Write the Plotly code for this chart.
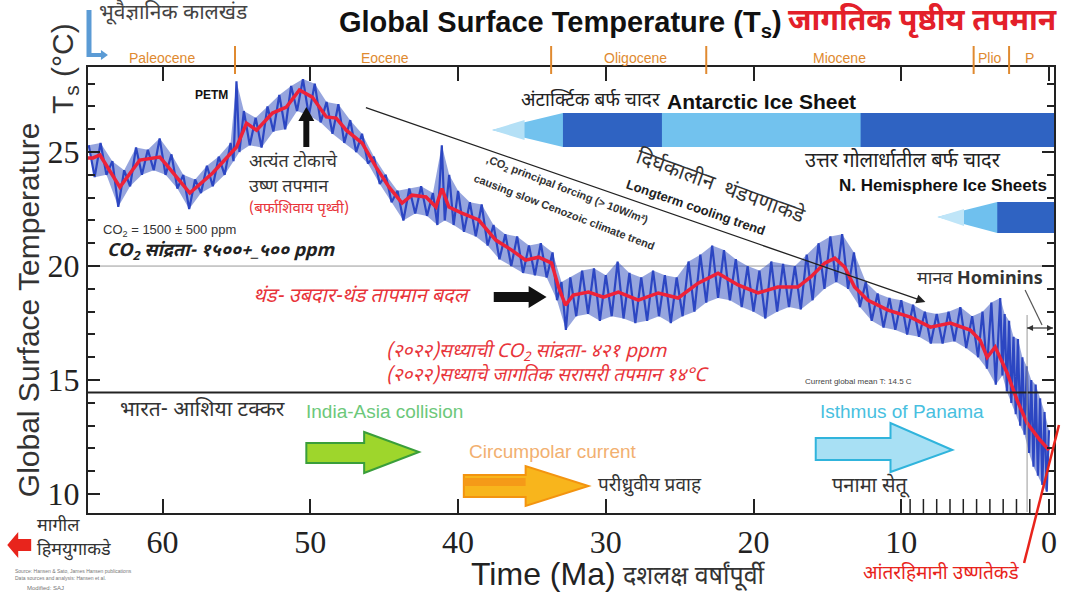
import plotly.graph_objects as go

# ---------------- data ----------------
# smoothed global surface temperature (red curve), Ma before present vs deg C
red_ma = [65.05, 64.71, 64.24, 62.89, 61.54, 60.19, 59.72, 58.16, 56.61, 54.99,
          54.32, 53.64, 52.56, 51.62, 50.74, 49.87, 48.92, 48.25, 47.57, 46.49,
          45.55, 44.67, 43.79, 43.12, 42.17, 41.5, 41.09, 40.62, 39.74, 38.6,
          37.45, 36.37, 35.43, 34.55, 33.67, 33.2, 32.73, 32.2, 31.17, 30.16,
          29.15, 27.8, 26.45, 25.1, 23.75, 22.4, 21.05, 19.7, 18.35, 17.0,
          16.13, 15.18, 14.5, 13.83, 13.16, 12.28, 10.9, 9.38, 8.03, 6.68,
          5.33, 4.66, 4.18, 3.64, 2.83, 2.16, 1.48, 0.61, 0.0]
red_t = [24.74, 24.74, 24.87, 23.46, 24.65, 24.78, 24.43, 23.2, 24.08, 25.22,
         26.27, 25.96, 26.71, 26.97, 27.72, 27.41, 26.54, 26.49, 25.96, 25.39,
         24.34, 23.46, 22.76, 23.11, 23.03, 22.59, 23.4, 22.59, 22.32, 22.02,
         21.14, 20.7, 20.26, 20.39, 20.13, 19.08, 18.29, 18.73, 18.86, 18.64,
         18.86, 18.51, 18.82, 18.6, 19.25, 19.69, 19.17, 18.82, 19.08, 19.08,
         19.52, 20.13, 20.35, 19.96, 19.08, 18.51, 18.07, 17.76, 17.32, 17.5,
         17.19, 16.75, 16.0, 16.45, 15.31, 14.12, 13.11, 12.37, 11.93]

# high-resolution record (blue curve), alternating local highs and lows
blue_ma = [65.0, 64.6, 64.2, 63.8, 63.4, 63.0, 62.6, 62.2, 61.8, 61.4,
           61.0, 60.6, 60.2, 59.8, 59.4, 59.0, 58.6, 58.2, 57.8, 57.4,
           57.0, 56.6, 56.2, 55.8, 55.4, 55.2, 55.0, 54.8, 54.5, 54.1,
           53.7, 53.3, 52.9, 52.5, 52.1, 51.7, 51.3, 50.9, 50.5, 50.1,
           49.7, 49.3, 48.9, 48.5, 48.1, 47.7, 47.3, 46.9, 46.5, 46.1,
           45.7, 45.3, 44.9, 44.5, 44.1, 43.7, 43.3, 42.9, 42.5, 42.1,
           41.7, 41.4, 41.1, 40.9, 40.6, 40.3, 40.0, 39.6, 39.2, 38.8,
           38.4, 38.0, 37.6, 37.2, 36.8, 36.4, 36.0, 35.6, 35.2, 34.8,
           34.4, 34.0, 33.6, 33.3, 33.0, 32.7, 32.4, 32.0, 31.6, 31.2,
           30.8, 30.4, 30.0, 29.6, 29.2, 28.8, 28.4, 28.0, 27.6, 27.2,
           26.8, 26.4, 26.0, 25.6, 25.2, 24.8, 24.4, 24.0, 23.6, 23.2,
           22.8, 22.4, 22.0, 21.6, 21.2, 20.8, 20.4, 20.0, 19.6, 19.2,
           18.8, 18.4, 18.0, 17.6, 17.2, 16.8, 16.4, 16.0, 15.6, 15.2,
           14.8, 14.4, 14.0, 13.6, 13.2, 12.8, 12.4, 12.0, 11.6, 11.2,
           10.8, 10.4, 10.0, 9.6, 9.2, 8.8, 8.4, 8.0, 7.6, 7.2,
           6.8, 6.4, 6.0, 5.6, 5.2, 4.8, 4.5, 4.2, 3.9, 3.6,
           3.3, 3.15, 3.0, 2.85, 2.7, 2.55, 2.4, 2.25, 2.1, 1.95,
           1.8, 1.65, 1.5, 1.35, 1.2, 1.05, 0.9, 0.75, 0.6, 0.45,
           0.3, 0.15, 0.0]
blue_t = [25.3, 23.9, 25.4, 24.0, 24.6, 22.6, 24.2, 23.5, 25.2, 24.0,
          25.1, 24.2, 25.6, 24.0, 24.9, 23.4, 24.0, 22.5, 23.8, 23.2,
          24.4, 23.5, 24.8, 24.0, 25.4, 24.6, 28.1, 25.0, 26.8, 25.3,
          26.5, 25.2, 27.0, 25.9, 27.5, 26.0, 27.9, 26.8, 28.2, 26.6,
          28.0, 26.3, 27.2, 25.8, 27.1, 25.4, 26.4, 25.0, 25.8, 24.5,
          24.8, 23.6, 24.0, 22.8, 23.3, 22.0, 23.4, 22.3, 23.5, 22.2,
          23.2, 21.8, 25.3, 22.0, 24.0, 21.8, 23.3, 21.5, 22.8, 21.3,
          22.7, 20.9, 21.8, 20.3, 21.4, 20.0, 21.3, 19.7, 20.9, 19.6,
          21.0, 19.5, 20.6, 18.5, 19.3, 17.2, 19.5, 17.8, 19.8, 17.9,
          19.9, 17.6, 19.6, 17.8, 20.2, 17.7, 19.7, 17.5, 19.5, 17.6,
          19.8, 17.8, 19.6, 17.5, 19.5, 17.8, 20.2, 18.0, 20.5, 18.4,
          20.9, 18.6, 20.7, 18.5, 20.3, 18.2, 20.0, 18.0, 19.8, 17.7,
          20.2, 18.0, 20.1, 18.2, 20.0, 18.1, 20.5, 18.5, 21.0, 19.0,
          21.3, 19.3, 21.4, 19.0, 20.6, 18.2, 19.3, 17.6, 18.8, 17.3,
          18.6, 17.2, 18.5, 17.0, 18.3, 16.9, 18.0, 16.6, 17.9, 16.6,
          18.0, 16.7, 18.2, 16.4, 17.8, 16.0, 18.0, 15.5, 18.4, 14.8,
          18.6, 15.2, 17.9, 14.5, 17.6, 14.0, 16.9, 13.5, 16.8, 13.0,
          16.0, 12.6, 15.6, 11.8, 15.0, 11.2, 14.8, 10.8, 14.2, 10.4,
          13.6, 10.1, 12.8]

# geological epochs
epoch_names = ["Paleocene", "Eocene", "Oligocene", "Miocene", "Plio", "P"]
epoch_label_ma = [60.05, 44.94, 28.0, 14.17, 3.98, 1.3]
epoch_bounds_ma = [55.1, 33.7, 23.2, 5.1, 2.7]

x_ticks = [60, 50, 40, 30, 20, 10, 0]
y_ticks = [10, 15, 20, 25]
fine_ticks_ma = [9.4, 8.5, 7.6, 6.7, 5.8, 4.9, 4.0, 3.1, 2.2, 1.3]
current_mean_t = 14.45

# ice sheet bars: tip, full-width start, dark spans (Ma)
antarctic_tip, antarctic_full = 37.7, 32.9
antarctic_dark = [(32.9, 26.2), (12.75, -0.34)]
nh_tip, nh_full = 7.55, 3.5
nh_dark = [(3.5, -0.34)]

X_RANGE = [65.05, -0.34]
Y_RANGE = [9.17, 28.73]

# ---------------- helpers ----------------
L, R, T, B = 88, 1057, 67, 513
W, H = 1065, 606


def px(x):
    return (x - L) / (R - L)


def py(y):
    return (B - y) / (B - T)


DEVA = "Noto Sans Devanagari, Lohit Devanagari, Noto Sans, Liberation Sans, sans-serif"
SANS = "Liberation Sans, Arial, sans-serif"
SERIF = "Liberation Serif, Times New Roman, serif"

annotations = []
shapes = []


def txt(x, y, s, size, color="#333333", family=DEVA, anchor="left", angle=0):
    annotations.append(dict(
        x=px(x), y=py(y), xref="paper", yref="paper", text=s, showarrow=False,
        xanchor=anchor, yanchor="middle", textangle=angle,
        font=dict(size=size, color=color, family=family)))


def poly(points, fill, line=None, lw=0, xref="paper"):
    if xref == "paper":
        d = "M " + " L ".join(f"{px(a):.5f},{py(b):.5f}" for a, b in points) + " Z"
    else:
        d = "M " + " L ".join(f"{a:.4f},{py(b):.5f}" for a, b in points) + " Z"
    shapes.append(dict(type="path", path=d, xref=xref, yref="paper",
                       fillcolor=fill, line=dict(color=line or fill, width=lw),
                       layer="above"))


def seg(x0, y0, x1, y1, color, width):
    shapes.append(dict(type="line", xref="paper", yref="paper",
                       x0=px(x0), y0=py(y0), x1=px(x1), y1=py(y1),
                       line=dict(color=color, width=width), layer="above"))


# ---------------- figure ----------------
fig = go.Figure()

# blue record: shaded envelope between highs and lows, plus the jagged trace
fig.add_trace(go.Scatter(x=blue_ma[0::2], y=blue_t[0::2], mode="lines",
                         line=dict(color="rgba(0,0,0,0)", width=0), hoverinfo="skip"))
fig.add_trace(go.Scatter(x=blue_ma[1::2], y=blue_t[1::2], mode="lines",
                         line=dict(color="rgba(0,0,0,0)", width=0), fill="tonexty",
                         fillcolor="rgba(45,75,190,0.5)", hoverinfo="skip"))
fig.add_trace(go.Scatter(x=blue_ma, y=blue_t, mode="lines",
                         line=dict(color="#2c46c2", width=2.2), hoverinfo="skip"))
fig.add_trace(go.Scatter(x=red_ma, y=red_t, mode="lines",
                         line=dict(color="#ee2238", width=3.5), hoverinfo="skip"))

# reference lines: 20 C grid line, current global mean
shapes.append(dict(type="line", xref="paper", yref="y", x0=0, x1=1, y0=20, y1=20,
                   line=dict(color="#9a9a9a", width=1), layer="below"))
shapes.append(dict(type="line", xref="paper", yref="y", x0=0, x1=1,
                   y0=current_mean_t, y1=current_mean_t,
                   line=dict(color="#222222", width=2)))

# epoch boundaries and labels
for b in epoch_bounds_ma:
    shapes.append(dict(type="line", xref="x", yref="paper", x0=b, x1=b,
                       y0=py(74), y1=py(46), line=dict(color="#e08a30", width=2)))
for name, m in zip(epoch_names, epoch_label_ma):
    annotations.append(dict(x=m, y=py(58), xref="x", yref="paper", text=name,
                            showarrow=False, xanchor="center", yanchor="middle",
                            font=dict(size=14, color="#e08a30", family=SANS)))

# fine ticks near the present
for m in fine_ticks_ma:
    shapes.append(dict(type="line", xref="x", yref="paper", x0=m, x1=m,
                       y0=0, y1=py(499), line=dict(color="#222", width=1.5)))

# Antarctic ice sheet bar
yt, yb, ym = 113, 147, 130
poly([(antarctic_tip, ym), (antarctic_full, yt), (-0.34, yt), (-0.34, yb),
      (antarctic_full, yb)], "#72c2ee", xref="x")
poly([(antarctic_tip, ym), (antarctic_tip - 2.2, yt + 7), (antarctic_tip - 2.2, yb - 7)],
     "#b4e0f6", xref="x")
for a, b in antarctic_dark:
    poly([(a, yt), (b, yt), (b, yb), (a, yb)], "#2f63c2", xref="x")

# Northern hemisphere ice sheet bar
yt2, yb2, ym2 = 202, 233, 217
poly([(nh_tip, ym2), (nh_full, yt2), (-0.34, yt2), (-0.34, yb2), (nh_full, yb2)],
     "#6fc0ee", xref="x")
poly([(nh_tip, ym2), (nh_tip - 1.8, yt2 + 7), (nh_tip - 1.8, yb2 - 7)], "#bfe5f8", xref="x")
for a, b in nh_dark:
    poly([(a, yt2), (b, yt2), (b, yb2), (a, yb2)], "#2f63c2", xref="x")

# block arrows
poly([(307, 443), (365, 443), (365, 432), (420, 452), (365, 473), (365, 463), (307, 463)],
     "#9ed62c", "#3a9e3a", 2)
poly([(465, 475), (527, 475), (527, 466), (590, 486), (527, 506), (527, 497), (465, 497)],
     "#f8b51c", "#f39410", 2)
poly([(465, 478), (527, 478), (527, 486), (465, 486)], "#f59a18")
poly([(818, 438), (893, 438), (893, 423), (955, 450), (893, 472), (893, 460), (818, 460)],
     "#a8e0f4", "#30b4dc", 2)
poly([(495, 292), (530, 292), (530, 286), (548, 297), (530, 308), (530, 302), (495, 302)],
     "#111111")
poly([(304, 147), (304, 121), (299, 121), (307, 107), (315, 121), (310, 121), (310, 147)],
     "#111111")
poly([(7, 545), (18, 532), (18, 539), (31, 539), (31, 551), (18, 551), (18, 558)],
     "#e8241c")

# top-left blue corner arrow
seg(89, 10, 89, 57, "#5b9bd5", 5)
seg(87, 55, 102, 55, "#5b9bd5", 4)
poly([(101, 50), (108, 55), (101, 60)], "#5b9bd5")

# hominins bracket
seg(1030, 315, 1030, 512, "#9a9a9a", 1)
seg(1030, 328, 1056, 328, "#333333", 1.2)
seg(1028, 290, 1045, 325, "#555555", 1.2)
poly([(1030, 328), (1036, 325), (1036, 331)], "#333333")
poly([(1056, 328), (1050, 325), (1050, 331)], "#333333")

# red pointer to interglacial warmth
seg(1027, 563, 1062, 425, "#e8241c", 2.5)

# long-term cooling trend arrow
annotations.append(dict(x=px(928), y=py(302), xref="paper", yref="paper",
                        ax=367 - 928, ay=107 - 302, showarrow=True, arrowhead=2,
                        arrowsize=1.4, arrowwidth=1.3, arrowcolor="#222222", text=""))

# ---------------- texts ----------------
txt(338, 24, "<b>Global Surface Temperature (T<sub>s</sub>)</b>", 29, "#111111", SANS)
txt(788, 22, "<b>जागतिक पृष्ठीय तपमान</b>", 30, "#e3202a")
txt(97, 14, "भूवैज्ञानिक कालखंड", 21, "#444444")

txt(212, 95, "<b>PETM</b>", 12, "#111111", SANS, "center")
txt(247, 162, "अत्यंत टोकाचे", 18, "#333333")
txt(247, 187, "उष्ण तपमान", 18, "#333333")
txt(247, 209, "(बर्फाशिवाय पृथ्वी)", 15, "#e8343a")
txt(101, 231, "CO<sub>2</sub> = 1500 ± 500 ppm", 13, "#333333", SANS)
txt(105, 252, "<b><i>CO<sub>2</sub> सांद्रता- १५००+_५०० ppm</i></b>", 18, "#222222")

txt(520, 101, "अंटार्क्टिक बर्फ चादर", 19, "#222222")
txt(667, 101, "<b>Antarctic Ice Sheet</b>", 21, "#111111", SANS)
txt(805, 161, "उत्तर गोलार्धातील बर्फ चादर", 20, "#222222")
txt(1052, 185, "<b>N. Hemisphere Ice Sheets</b>", 17, "#111111", SANS, "right")

txt(722, 188, "दिर्घकालीन  थंडपणाकडे", 21, "#333333", DEVA, "center", 20)
txt(698, 207, "<b>Longterm cooling trend</b>", 13, "#222222", SANS, "center", 19)
txt(568, 190, "<b>,CO<sub>2</sub> principal forcing (> 10W/m²)</b>", 11, "#333333", SANS, "center", 21)
txt(566, 212, "<b>causing slow Cenozoic climate trend</b>", 11, "#333333", SANS, "center", 21)

txt(252, 297, "<i>थंड- उबदार-थंड तापमान बदल</i>", 20, "#e8343a")
txt(385, 352, "<i>(२०२२)सध्याची CO<sub>2</sub> सांद्रता- ४२१ ppm</i>", 19, "#e8343a")
txt(385, 376, "<i>(२०२२)सध्याचे जागतिक सरासरी तपमान १४°C</i>", 19, "#e8343a")
txt(805, 382, "Current global mean T: 14.5 C", 8, "#444444", SANS)

txt(918, 279, "मानव <b>Hominins</b>", 18, "#333333")

txt(118, 411, "भारत- आशिया टक्कर", 21, "#333333")
txt(305, 411, "India-Asia collision", 19, "#6cc87a", SANS)
txt(468, 451, "Circumpolar current", 19, "#f2b070", SANS)
txt(598, 486, "परीध्रुवीय प्रवाह", 19, "#333333")
txt(820, 411, "Isthmus of Panama", 19, "#48bfe0", SANS)
txt(832, 486, "पनामा सेतू", 20, "#333333")

# axis titles
txt(28, 310, "Global Surface Temperature", 30, "#333333", SANS, "center", -90)
txt(64, 69, "T<sub>s</sub> (°C)", 30, "#333333", SANS, "center", -90)
txt(470, 574, "Time (Ma)", 32, "#222222", SANS)
txt(623, 577, "दशलक्ष वर्षांपूर्वी", 25, "#333333")

# bottom corners
txt(35, 526, "मागील", 18, "#333333")
txt(35, 550, "हिमयुगाकडे", 18, "#333333")
txt(13, 571, "Source: Hansen & Sato, James Hansen publications", 5, "#777777", SANS)
txt(13, 578, "Data sources and analysis: Hansen et al.", 5, "#777777", SANS)
txt(25, 588, "Modified: SAJ", 6, "#777777", SANS)
txt(863, 574, "आंतरहिमानी उष्णतेकडे", 19, "#e8241c")

fig.update_layout(
    width=W, height=H,
    margin=dict(l=L, r=W - R, t=T, b=H - B, pad=0),
    paper_bgcolor="white", plot_bgcolor="white",
    showlegend=False,
    xaxis=dict(range=X_RANGE, tickvals=x_ticks, ticktext=[str(v) for v in x_ticks],
               ticks="inside", ticklen=14, tickwidth=2, tickcolor="#222",
               showline=True, linewidth=2, linecolor="#222", mirror="ticks",
               showgrid=False, zeroline=False, ticklabelstandoff=0,
               tickfont=dict(family=SERIF, size=32, color="#222")),
    yaxis=dict(range=Y_RANGE, tickvals=y_ticks, ticktext=[str(v) for v in y_ticks],
               ticks="inside", ticklen=12, tickwidth=2, tickcolor="#222",
               minor=dict(ticks="inside", dtick=1, ticklen=7, tickwidth=1.5, tickcolor="#222"),
               showline=True, linewidth=2, linecolor="#222", mirror="ticks",
               showgrid=False, zeroline=False,
               tickfont=dict(family=SERIF, size=32, color="#222")),
    shapes=shapes,
    annotations=annotations,
)

fig.write_html("out.html")
